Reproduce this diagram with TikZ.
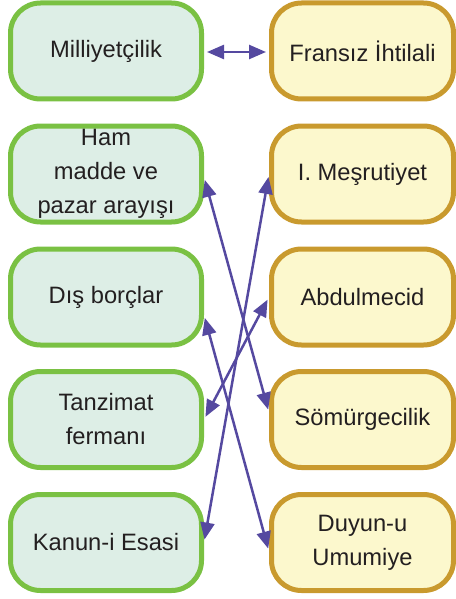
\documentclass[tikz,border=0pt]{standalone}
\usepackage{fontspec}
\setmainfont{Liberation Sans}
\usepackage{xcolor}
\usetikzlibrary{arrows.meta}
\definecolor{leftgreen}{HTML}{7AC143}
\definecolor{leftfill}{HTML}{DDEEE6}
\definecolor{rightgold}{HTML}{C99A2E}
\definecolor{rightfill}{HTML}{FCF8CD}
\definecolor{linkblue}{HTML}{5549A0}
\definecolor{textgray}{HTML}{231F20}
\begin{document}
\begin{tikzpicture}[x=1pt, y=-1pt, line width=5pt,
    box/.style={rectangle, rounded corners=30pt, minimum height=96pt, inner sep=0pt, align=center, text=textgray, font=\fontsize{23.7}{34}\selectfont},
    lbox/.style={box, minimum width=191pt, draw=leftgreen, fill=leftfill},
    rbox/.style={box, minimum width=182pt, draw=rightgold, fill=rightfill},
    link/.style={draw=linkblue, line width=2.5pt, {Triangle[length=17pt,width=14pt]}-{Triangle[length=17pt,width=14pt]}, shorten <=3pt, shorten >=3pt}]
    \useasboundingbox (0,0) rectangle (455,599);
    \node[lbox] (milli) at (106,51) {Milliyetçilik};
    \node[lbox] (ham) at (106,174) {Ham\\madde ve\\pazar arayışı};
    \node[lbox] (dis) at (106,297) {Dış borçlar};
    \node[lbox] (tanz) at (106,419.5) {Tanzimat\\fermanı};
    \node[lbox] (kanun) at (106,542.5) {Kanun-i Esasi};
    \node[rbox] (fransiz) at (362.5,51) {Fransız İhtilali};
    \node[rbox] (mesr) at (362.5,174) {I. Meşrutiyet};
    \node[rbox] (abdul) at (362.5,297) {Abdulmecid};
    \node[rbox] (somur) at (362.5,419.5) {Sömürgecilik};
    \node[rbox] (duyun) at (362.5,542.5) {Duyun-u\\Umumiye};
    \draw[link] ([yshift=-1pt]milli.east) -- ([yshift=-1pt]fransiz.west);
    \draw[link] ([yshift=-3pt]ham.east) -- ([yshift=7pt]somur.west);
    \draw[link] (mesr.west) -- (kanun.east);
    \draw[link] ([yshift=-18pt]dis.east) -- ([yshift=-9pt]duyun.west);
    \draw[link] (abdul.west) -- (tanz.east);
\end{tikzpicture}
\end{document}
